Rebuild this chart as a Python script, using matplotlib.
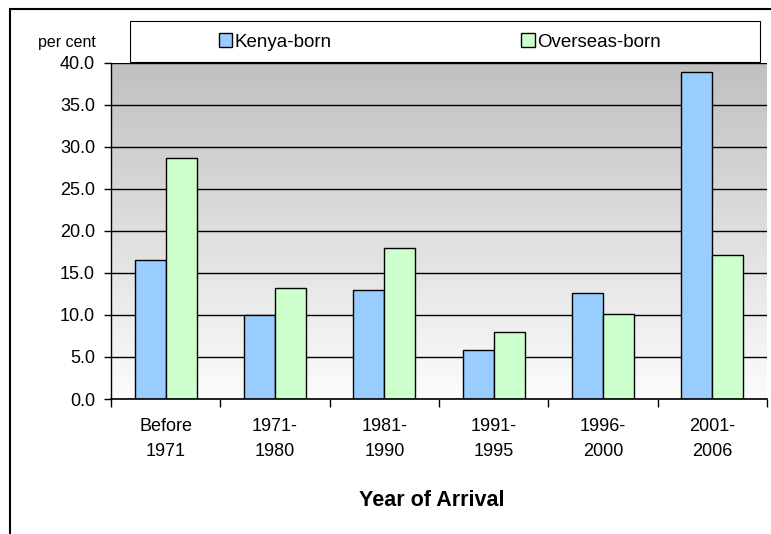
import numpy as np
import matplotlib
matplotlib.use("Agg")
import matplotlib.pyplot as plt
from matplotlib.patches import Patch, Rectangle

plt.rcParams['font.family'] = ['Liberation Sans', 'DejaVu Sans']

# data
categories = ["Before\n1971", "1971-\n1980", "1981-\n1990", "1991-\n1995", "1996-\n2000", "2001-\n2006"]
kenya_born = [16.5, 10.0, 12.9, 5.8, 12.6, 38.9]
overseas_born = [28.7, 13.2, 18.0, 8.0, 10.1, 17.1]
series_names = ["Kenya-born", "Overseas-born"]
y_ticks = [0, 5, 10, 15, 20, 25, 30, 35, 40]

blue = "#99CCFF"
green = "#CCFFCC"

fig = plt.figure(figsize=(7.71, 5.34), dpi=100)
ax = fig.add_axes([111 / 771, 1 - 399 / 534, 656 / 771, 336.5 / 534])

# gradient background of the plot area
grad = np.linspace(0, 1, 256).reshape(-1, 1)
ax.imshow(grad, cmap=matplotlib.colors.LinearSegmentedColormap.from_list("g", ["#FCFCFC", "#C0C0C0"]),
          extent=[-0.5, 5.5, 0, 40], aspect="auto", origin="lower", zorder=0)

x = np.arange(len(categories))
w = 0.285
ax.bar(x - w / 2, kenya_born, w, color=blue, edgecolor="black", linewidth=1, zorder=2)
ax.bar(x + w / 2, overseas_born, w, color=green, edgecolor="black", linewidth=1, zorder=2)

ax.set_xlim(-0.5, 5.5)
ax.set_ylim(0, 40)
ax.set_yticks(y_ticks)
ax.set_yticklabels(["%.1f" % v for v in y_ticks], fontsize=13)
ax.yaxis.grid(True, color="black", linewidth=1, zorder=1)
ax.set_axisbelow(True)

ax.set_xticks(x)
ax.set_xticklabels(categories, fontsize=13, linespacing=1.55)
ax.set_xticks(np.arange(-0.5, 6, 1), minor=True)
ax.tick_params(axis="x", which="major", length=0, pad=14)
ax.tick_params(axis="x", which="minor", length=6, width=1, direction="out")
ax.tick_params(axis="y", length=5, width=1, direction="out", pad=6.5)

for s in ["top", "right"]:
    ax.spines[s].set_visible(False)
ax.spines["left"].set_linewidth(1)
ax.spines["bottom"].set_linewidth(1.2)

fig.text(432 / 771, 1 - 500 / 534, "Year of Arrival", fontsize=15.5, fontweight="bold",
         ha="center", va="center")
fig.text(67 / 771, 1 - 43 / 534, "per cent", fontsize=11.5, ha="center", va="center")

# legend box and entries
fig.patches.append(Rectangle((130 / 771, 1 - 62 / 534), 630 / 771, 41 / 534,
                             transform=fig.transFigure, facecolor="white",
                             edgecolor="black", linewidth=0.8, zorder=3))
handles = [Patch(facecolor=blue, edgecolor="black"), Patch(facecolor=green, edgecolor="black")]
leg = fig.legend(handles, series_names, loc="center", ncol=2, frameon=False,
                 bbox_to_anchor=(440 / 771, 1 - 42 / 534), fontsize=13.5,
                 handlelength=0.7, handleheight=0.7, handletextpad=0.16,
                 columnspacing=10.1)
leg.set_zorder(4)

# outer chart border (only left and top visible)
fig.patches.append(Rectangle((10 / 771, -0.1), 1.2, 1.1 - 9 / 534, transform=fig.transFigure,
                             facecolor="none", edgecolor="black", linewidth=1.5))

fig.savefig("out.png", dpi=100)
